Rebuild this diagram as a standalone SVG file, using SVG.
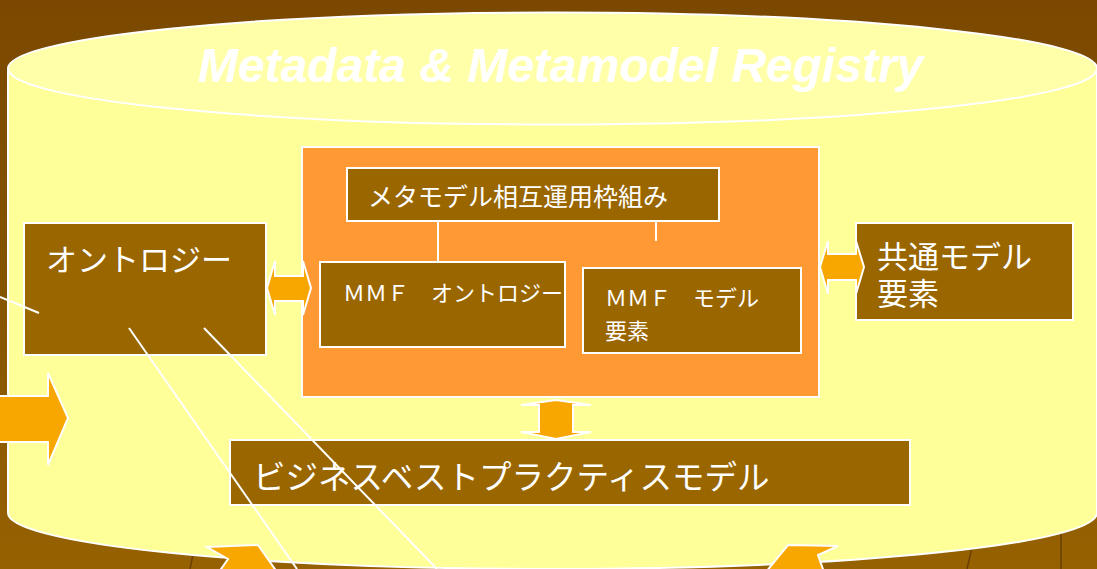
<svg xmlns="http://www.w3.org/2000/svg" width="1097" height="569" viewBox="0 0 1097 569">
<defs>
<linearGradient id="bg" x1="0" y1="0" x2="0" y2="1">
<stop offset="0" stop-color="#7a4800"/>
<stop offset="0.5" stop-color="#855400"/>
<stop offset="1" stop-color="#966100"/>
</linearGradient>
</defs>
<style>
.box{fill:#996600;stroke:#ffffff;stroke-width:2}
.arr{fill:#f8a700;stroke:#ffffff;stroke-width:2;stroke-linejoin:miter}
.jp{font-family:"Noto Sans CJK JP","Noto Sans",sans-serif;fill:#ffffff}
.ln{stroke:#ffffff;stroke-width:2;fill:none}
.dk{stroke:#6a3f00;stroke-width:1.5;fill:none}
</style>
<rect x="0" y="0" width="1097" height="569" fill="url(#bg)"/>
<g id="background-lines">
<line class="dk" x1="196" y1="540" x2="190" y2="569"/>
<line class="dk" x1="976" y1="530" x2="967" y2="569"/>
<line class="dk" x1="1061" y1="520" x2="1061" y2="569"/>
</g>
<g id="registry">
<path d="M8,68.5 L8,513 A544.5,56 0 0 0 1097,513 L1097,68.5 Z" fill="#ffff99" stroke="#ffffff" stroke-width="2"/>
<ellipse cx="552.5" cy="68.5" rx="544.5" ry="56" fill="#ffffaa" stroke="#ffffff" stroke-width="2"/>
<text x="198" y="82" font-family="'Liberation Sans',Arial,sans-serif" font-size="48" font-weight="bold" font-style="italic" fill="#ffffff">Metadata &amp; Metamodel Registry</text>
</g>
<g id="mmf-frame">
<rect x="302" y="147" width="517" height="250" fill="#ff9933" stroke="#ffffff" stroke-width="2"/>
</g>
<g id="ontology">
<rect class="box" x="24" y="223" width="242" height="132"/>
<text class="jp" x="46" y="271" font-size="31">オントロジー</text>
</g>
<g id="framework">
<rect class="box" x="347" y="168" width="372" height="53"/>
<text class="jp" x="368" y="206" font-size="25">メタモデル相互運用枠組み</text>
</g>
<g id="mmf-ontology">
<rect class="box" x="320" y="262" width="245" height="85"/>
<text class="jp" x="343" y="301" font-size="22">ＭＭＦ　オントロジー</text>
</g>
<g id="mmf-model-element">
<rect class="box" x="583" y="268" width="218" height="85"/>
<text class="jp" font-size="22"><tspan x="605" y="306">ＭＭＦ　モデル</tspan><tspan x="605" y="339">要素</tspan></text>
</g>
<g id="common-model-element">
<rect class="box" x="856" y="223" width="217" height="97"/>
<text class="jp" font-size="31"><tspan x="877" y="268">共通モデル</tspan><tspan x="877" y="305">要素</tspan></text>
</g>
<g id="business-model">
<rect class="box" x="230" y="440" width="680" height="65"/>
<text class="jp" x="253" y="489" font-size="32.5">ビジネスベストプラクティスモデル</text>
</g>
<g id="connectors">
<line class="ln" x1="438" y1="221" x2="438" y2="262"/>
<line class="ln" x1="656" y1="221" x2="656" y2="241"/>
<polygon class="arr" points="267,288 275,261 275,276 303,276 303,261 311,288 303,315 303,301 275,301 275,315"/>
<polygon class="arr" points="820,267 828,241 828,254 856,254 856,241 864,267 856,294 856,280 828,280 828,294"/>
<polygon class="arr" points="556,400 591,405 573,405 573,432 591,432 556,439 521,432 539,432 539,405 521,405"/>
<polygon class="arr" points="-4,396 48,396 48,373 68,418 48,465 48,442 -4,442"/>
<polygon class="arr" points="207,547 258,545 277,572 219,572 228,559"/>
<polygon class="arr" points="788,545 838,546 818,555 824,572 766,572"/>
<line class="ln" x1="0" y1="297" x2="39" y2="313"/>
<line class="ln" x1="129" y1="328" x2="297" y2="569"/>
<line class="ln" x1="204" y1="328" x2="437" y2="569"/>
</g>
</svg>
